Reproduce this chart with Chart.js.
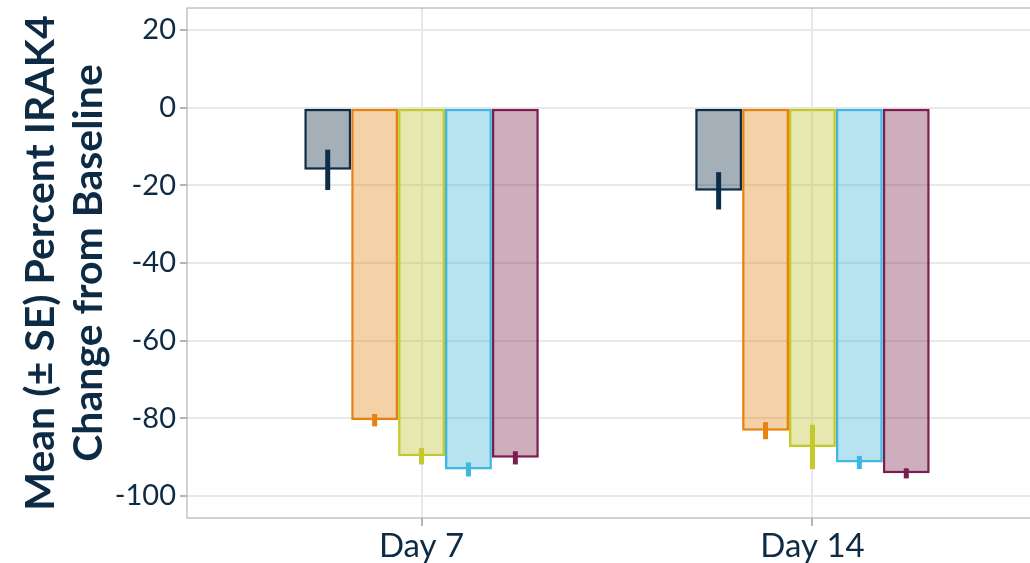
<!DOCTYPE html>
<html>
<head>
<meta charset="utf-8">
<script src="https://cdn.jsdelivr.net/npm/chart.js"></script>
<style>
body { margin: 0; overflow: hidden; background: #fff; }
</style>
</head>
<body>
<canvas id="chart" width="1050" height="563"></canvas>
<script>
// data
const days = ['Day 7', 'Day 14'];
const groups = ['Group 1', 'Group 2', 'Group 3', 'Group 4', 'Group 5'];
const means1 = [-16.0, -21.4];
const means2 = [-80.5, -83.2];
const means3 = [-89.8, -87.4];
const means4 = [-93.2, -91.4];
const means5 = [-90.2, -94.2];
const se1 = [5.2, 4.8];
const se2 = [1.6, 2.2];
const se3 = [2.1, 5.7];
const se4 = [1.8, 1.7];
const se5 = [1.7, 1.3];
const yTicks = [20, 0, -20, -40, -60, -80, -100];

const means = [means1, means2, means3, means4, means5];
const ses = [se1, se2, se3, se4, se5];
const lineColors = ['#0c2c48', '#e8820f', '#c4c92b', '#3cb8e3', '#7b1e4e'];
const fillColors = ['rgba(28,55,78,0.4)', 'rgba(228,140,32,0.4)', 'rgba(195,198,58,0.4)',
                    'rgba(75,185,220,0.4)', 'rgba(133,52,90,0.4)'];

const ink = '#0d2b45';

const errorBars = {
  id: 'errorBars',
  afterDatasetsDraw(chart) {
    const ctx = chart.ctx;
    const y = chart.scales.y;
    ctx.save();
    chart.data.datasets.forEach((ds, i) => {
      const meta = chart.getDatasetMeta(i);
      meta.data.forEach((bar, j) => {
        const m = ds.data[j], s = ses[i][j];
        ctx.strokeStyle = lineColors[i];
        ctx.lineWidth = 5;
        ctx.beginPath();
        ctx.moveTo(bar.x, y.getPixelForValue(m + s));
        ctx.lineTo(bar.x, y.getPixelForValue(m - s));
        ctx.stroke();
      });
    });
    ctx.restore();
  }
};

const panelBorder = {
  id: 'panelBorder',
  afterDraw(chart) {
    const a = chart.chartArea, ctx = chart.ctx;
    ctx.save();
    ctx.strokeStyle = '#b5b5b5';
    ctx.lineWidth = 1.2;
    ctx.strokeRect(a.left, a.top, a.right - a.left, a.bottom - a.top);
    ctx.restore();
  }
};

new Chart(document.getElementById('chart'), {
  type: 'bar',
  data: {
    labels: days,
    datasets: groups.map((g, i) => ({
      label: g,
      data: means[i],
      backgroundColor: fillColors[i],
      borderColor: lineColors[i],
      borderWidth: 2.5,
      borderSkipped: false,
      categoryPercentage: 0.6,
      barPercentage: 1.0
    }))
  },
  options: {
    responsive: false,
    animation: false,
    layout: { padding: { top: 8, right: 3, left: 0, bottom: 0 } },
    plugins: { legend: { display: false }, tooltip: { enabled: false } },
    scales: {
      x: {
        grid: { color: '#e8e8e8', lineWidth: 2, offset: false, tickColor: '#b5b5b5', tickLength: 8 },
        border: { display: false },
        ticks: { color: ink, font: { family: 'Lato', size: 33 }, padding: 1 },
        afterFit(scale) { scale.height = 45; },
        // ggplot-style discrete expansion: 0.6 category widths on each side
        afterUpdate(scale) { scale._startValue = -0.6; scale._valueRange = 2.2; }
      },
      y: {
        min: -105.7,
        max: 25.7,
        afterBuildTicks(scale) { scale.ticks = yTicks.map(v => ({ value: v })); },
        grid: { color: '#e8e8e8', lineWidth: 2, tickColor: '#b5b5b5', tickLength: 7 },
        border: { display: false },
        ticks: { color: ink, font: { family: 'Lato', size: 29 }, padding: 4 },
        title: {
          display: true,
          text: ['Mean (\u00b1 SE) Percent IRAK4', 'Change from Baseline'],
          color: ink,
          font: { family: 'Lato', size: 41, weight: 'bold', lineHeight: 1.17 },
          padding: { top: 17, bottom: 0 }
        },
        afterFit(scale) {
          scale.width = 187;
          scale.paddingTop = 0;
          scale.paddingBottom = 0;
        }
      }
    }
  },
  plugins: [errorBars, panelBorder]
});
</script>
</body>
</html>
